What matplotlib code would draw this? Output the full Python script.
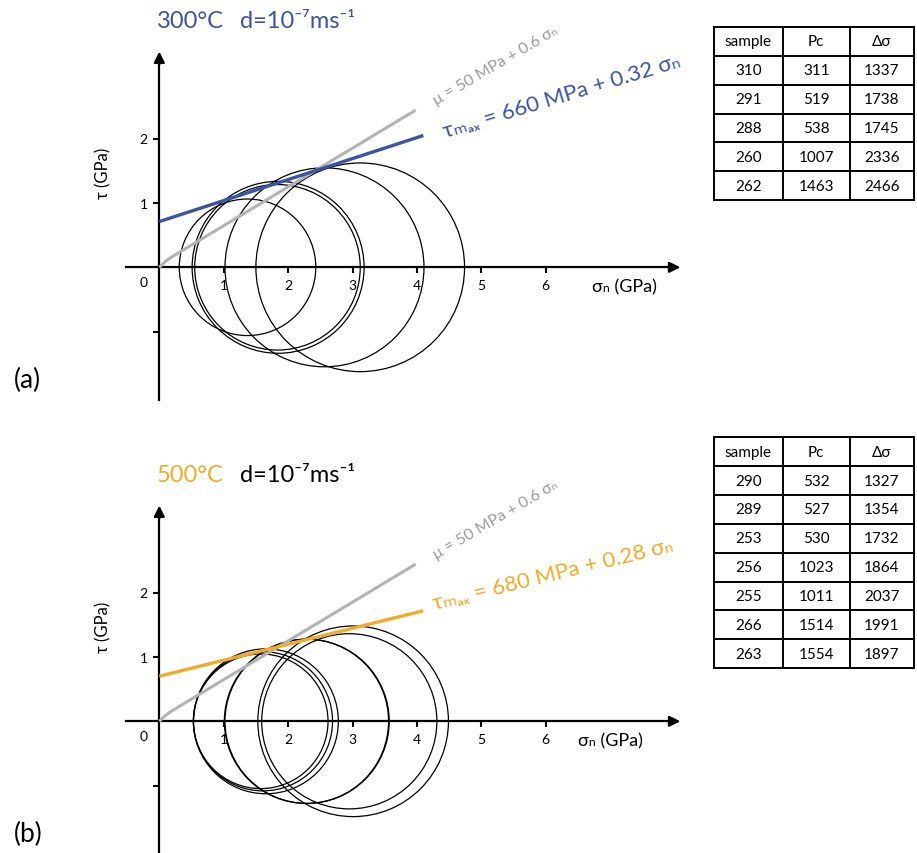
import matplotlib
matplotlib.use("Agg")
import matplotlib.pyplot as plt
from matplotlib.patches import Circle

plt.rcParams['font.family'] = ['Lato', 'DejaVu Sans']

# table contents (MPa)
samples_a = ['310', '291', '288', '260', '262']
pc_a = ['311', '519', '538', '1007', '1463']
dsig_a = ['1337', '1738', '1745', '2336', '2466']

samples_b = ['290', '289', '253', '256', '255', '266', '263']
pc_b = ['532', '527', '530', '1023', '1011', '1514', '1554']
dsig_b = ['1327', '1354', '1732', '1864', '2037', '1991', '1897']

# Mohr circles as drawn (sigma3, sigma1 in GPa)
sig3_a = [0.31, 0.51, 0.55, 1.02, 1.50]
sig1_a = [2.43, 3.18, 3.12, 4.11, 4.74]
sig3_b = [0.53, 0.53, 0.53, 1.02, 1.01, 1.53, 1.59]
sig1_b = [2.62, 2.69, 2.78, 3.57, 3.56, 4.49, 4.31]

# Byerlee friction line
byer_sig = [0, 0.1, 0.2, 0.3, 3.98]
byer_tau = [0, 0.095, 0.165, 0.225, 2.44]

# tau_max fits as drawn (intercept GPa, slope)
fit_a = (0.71, 0.326)
fit_b = (0.70, 0.248)
fit_end = 4.1

blue = '#3a53a4'
orange = '#f0ab28'
grey_line = '#b3b3b3'
grey_txt = '#9a9a9a'

W, H = 917, 854
X0, S = 159.3, 64.4
fig = plt.figure(figsize=(W / 100, H / 100), dpi=100)

over = fig.add_axes([0, 0, 1, 1])
over.set_xlim(0, W)
over.set_ylim(H, 0)
over.axis('off')


def panel(y0, sig3, sig1, fit, col):
    xlo, xhi, ylo, yhi = -0.6, 8.4, -2.15, 3.6
    left = X0 + xlo * S
    top = y0 - yhi * S
    w = (xhi - xlo) * S
    h = (yhi - ylo) * S
    ax = fig.add_axes([left / W, 1 - (top + h) / H, w / W, h / H])
    ax.set_xlim(xlo, xhi)
    ax.set_ylim(ylo, yhi)
    ax.patch.set_alpha(0)
    for sp in ['top', 'right']:
        ax.spines[sp].set_visible(False)
    ax.spines['left'].set_position(('data', 0))
    ax.spines['bottom'].set_position(('data', 0))
    ax.spines['left'].set_bounds(-2.06, 3.25)
    ax.spines['bottom'].set_bounds(-0.52, 8.0)
    for sp in ['left', 'bottom']:
        ax.spines[sp].set_linewidth(1.6)
    ax.annotate('', xy=(8.09, 0), xytext=(7.9, 0),
                arrowprops=dict(arrowstyle='-|>', mutation_scale=16, lw=1.6,
                                color='k', shrinkA=0, shrinkB=0))
    ax.annotate('', xy=(0, 3.35), xytext=(0, 3.15),
                arrowprops=dict(arrowstyle='-|>', mutation_scale=16, lw=1.6,
                                color='k', shrinkA=0, shrinkB=0))
    ax.set_xticks([1, 2, 3, 4, 5, 6])
    ax.set_yticks([-1, 1, 2])
    ax.set_yticklabels(['', '1', '2'])
    ax.tick_params(direction='out', length=4.5, width=1.5, labelsize=10, pad=4)

    for s3, s1 in zip(sig3, sig1):
        ax.add_patch(Circle(((s3 + s1) / 2, 0), (s1 - s3) / 2, fill=False,
                            lw=0.9, ec='black', zorder=3))
    ax.plot(byer_sig, byer_tau, color=grey_line, lw=2.2, zorder=4,
            solid_capstyle='butt')
    a, b = fit
    ax.plot([0, fit_end], [a, a + b * fit_end], color=col, lw=2.4, zorder=5,
            solid_capstyle='butt')
    return ax


panel(268.3, sig3_a, sig1_a, fit_a, blue)
panel(722.3, sig3_b, sig1_b, fit_b, orange)

# free text
over.text(157, 28, '300°C', color=blue, fontsize=17, va='baseline')
over.text(240, 28, 'd=10⁻⁷ms⁻¹', color=blue, fontsize=17, va='baseline')
over.text(157, 481.7, '500°C', color=orange, fontsize=17, va='baseline')
over.text(240, 481.7, 'd=10⁻⁷ms⁻¹', color='black', fontsize=17, va='baseline')

for dy, lab, fcol, ang, sx in [(0, '(a)', blue, 16.8, 445), (454, '(b)', orange, 13.8, 435)]:
    over.text(14, 380 + dy, lab, fontsize=19, va='center', ha='left')
    over.text(103, 173 + dy, 'τ (GPa)', fontsize=12, rotation=90,
              ha='center', va='center')
    over.text(143.3, 283 + dy, '0', fontsize=10, ha='center', va='center')
    over.text(436, 105 + dy, 'μ = 50 MPa + 0.6 σₙ', color=grey_txt, fontsize=11.5,
              rotation=30.5, rotation_mode='anchor', ha='left', va='baseline')
    eq = 'τₘₐₓ = 660 MPa + 0.32 σₙ' if dy == 0 else 'τₘₐₓ = 680 MPa + 0.28 σₙ'
    over.text(sx, 138 + dy + (0 if dy == 0 else 18), eq, color=fcol, fontsize=16,
              rotation=ang, rotation_mode='anchor', ha='left', va='baseline')

over.text(592, 287, 'σₙ (GPa)', fontsize=13, ha='left', va='center')
over.text(578, 741, 'σₙ (GPa)', fontsize=13, ha='left', va='center')


def table(top, rows):
    cols = [713.5, 783, 849.5, 914]
    rh = 28.85
    n = len(rows) + 1
    bottom = top + n * rh
    for x in cols:
        over.plot([x, x], [top, bottom], color='black', lw=1.4)
    for i in range(n + 1):
        over.plot([cols[0], cols[-1]], [top + i * rh, top + i * rh],
                  color='black', lw=1.4)
    allrows = [('sample', 'Pc', 'Δσ')] + rows
    for i, r in enumerate(allrows):
        for j, t in enumerate(r):
            over.text((cols[j] + cols[j + 1]) / 2, top + (i + 0.5) * rh, t,
                      fontsize=11, ha='center', va='center')


table(28, list(zip(samples_a, pc_a, dsig_a)))
table(438.3, list(zip(samples_b, pc_b, dsig_b)))

fig.savefig('out.png', dpi=100)
